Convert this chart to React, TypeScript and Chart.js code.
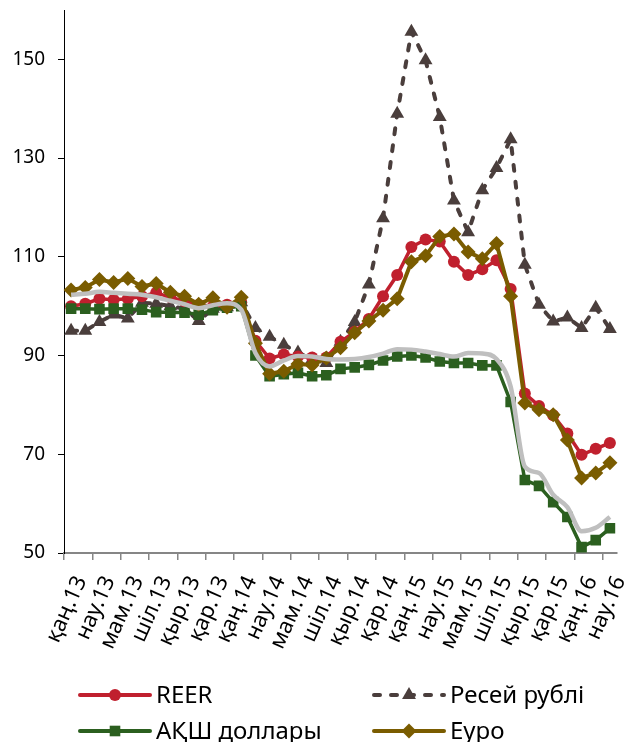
import React, { useEffect, useRef } from 'react';
import { Chart, registerables } from 'chart.js';

Chart.register(...registerables);

const categories = [
  'қаң.13', 'ақп.13', 'нау.13', 'сәу.13', 'мам.13', 'мау.13', 'шіл.13', 'там.13', 'қыр.13', 'қаз.13', 'қар.13', 'жел.13',
  'қаң.14', 'ақп.14', 'нау.14', 'сәу.14', 'мам.14', 'мау.14', 'шіл.14', 'там.14', 'қыр.14', 'қаз.14', 'қар.14', 'жел.14',
  'қаң.15', 'ақп.15', 'нау.15', 'сәу.15', 'мам.15', 'мау.15', 'шіл.15', 'там.15', 'қыр.15', 'қаз.15', 'қар.15', 'жел.15',
  'қаң.16', 'ақп.16', 'нау.16',
];

const reer = [
  100, 100.5, 101.5, 101.3, 101.5, 102, 102.7, 101.8, 101, 100.3, 100, 100.3,
  100.8, 93, 89.4, 90.2, 89.8, 89.6, 89.6, 92.8, 94.8, 97.4, 102, 106.3,
  112, 113.5, 113.1, 109, 106.3, 107.5, 109.3, 103.5, 82.3, 79.8, 77.9, 74.2,
  69.9, 71.1, 72.3,
];

const ruble = [
  95, 95, 96.8, 98.3, 97.5, 100.7, 100.5, 100, 99.5, 97, 99.5, 99.8,
  100.8, 95.6, 93.8, 92.2, 90.6, 89.2, 88.5, 92.8, 96.8, 104.4, 117.8, 139,
  155.6, 149.8, 138.3, 121.4, 115, 123.5, 128, 133.8, 108.4, 100.3, 96.9, 97.7,
  95.6, 99.7, 95.4,
];

const usd = [
  99.5, 99.5, 99.4, 99.5, 99.5, 99.3, 98.8, 98.7, 98.7, 98.3, 99.2, 99.7,
  100, 90, 85.8, 86.2, 86.5, 85.8, 86, 87.3, 87.6, 88.1, 89, 89.8,
  90, 89.6, 88.8, 88.5, 88.5, 88, 88, 80.6, 64.8, 63.6, 60.3, 57.3,
  51.2, 52.6, 55,
];

const euro = [
  103.3, 103.8, 105.4, 104.8, 105.6, 104, 104.6, 102.8, 102, 100.4, 101.7, 99.8,
  101.8, 92.5, 86.3, 86.8, 88.3, 88.1, 89.5, 91.6, 94.6, 97, 99.2, 101.5,
  109, 110.2, 114.1, 114.6, 111, 109.6, 112.7, 102, 80.4, 79, 78, 72.9,
  65.2, 66.2, 68.3,
];

const trend = [
  102.3, 102.5, 102.9, 102.7, 102.5, 102.3, 101.8, 101.1, 100.4, 99.6, 100.2, 100.6,
  99.3, 90.5, 87.8, 89, 89.9, 89.8, 89.3, 89.2, 89.3, 89.7, 90.4, 91.3,
  91.2, 90.8, 90.3, 89.8, 90.5, 90.4, 89.3, 83.7, 67.5, 66.2, 61.8, 59.3,
  54.4, 55.1, 57.3,
];

const yTicks = [50, 70, 90, 110, 130, 150];

const seriesNames = ['REER', 'Ресей рублі', 'АҚШ доллары', 'Еуро'];

const FONT = "'Noto Sans', sans-serif";

function drawMarker(ctx: CanvasRenderingContext2D, style: string, x: number, y: number, r: number, color: string) {
  ctx.save();
  ctx.setLineDash([]);
  ctx.fillStyle = color;
  ctx.beginPath();
  if (style === 'circle') {
    ctx.arc(x, y, r, 0, Math.PI * 2);
  } else if (style === 'rect') {
    const s = r * Math.SQRT1_2;
    ctx.rect(x - s, y - s, 2 * s, 2 * s);
  } else if (style === 'triangle') {
    ctx.moveTo(x, y - r);
    ctx.lineTo(x + r * 0.866, y + r * 0.5);
    ctx.lineTo(x - r * 0.866, y + r * 0.5);
    ctx.closePath();
  } else {
    ctx.moveTo(x - r, y);
    ctx.lineTo(x, y - r);
    ctx.lineTo(x + r, y);
    ctx.lineTo(x, y + r);
    ctx.closePath();
  }
  ctx.fill();
  ctx.restore();
}

const legendPlugin = {
  id: 'gridLegend',
  afterDraw(chart: any) {
    const ctx: CanvasRenderingContext2D = chart.ctx;
    const slots = [
      { x: 80, y: 695 },
      { x: 374, y: 695 },
      { x: 80, y: 731 },
      { x: 374, y: 731 },
    ];
    seriesNames.forEach((name, i) => {
      const ds = chart.data.datasets.find((d: any) => d.label === name);
      if (!ds) return;
      const { x, y } = slots[i];
      ctx.save();
      ctx.strokeStyle = ds.borderColor;
      ctx.lineWidth = 4;
      ctx.lineCap = 'round';
      if (ds.borderDash) ctx.setLineDash(ds.borderDash);
      ctx.beginPath();
      ctx.moveTo(x, y);
      ctx.lineTo(x + 70, y);
      ctx.stroke();
      ctx.restore();
      drawMarker(ctx, ds.pointStyle, x + 35, y, ds.pointRadius, ds.borderColor);
      ctx.save();
      ctx.fillStyle = '#000';
      ctx.font = `24px ${FONT}`;
      ctx.textBaseline = 'middle';
      ctx.textAlign = 'left';
      ctx.fillText(name, x + 76, y + 1);
      ctx.restore();
    });
  },
};

export default function App() {
  const ref = useRef<HTMLCanvasElement | null>(null);

  useEffect(() => {
    if (!ref.current) return;
    const chart = new Chart(ref.current, {
      type: 'line',
      data: {
        labels: categories,
        datasets: [
          {
            label: 'trend',
            data: trend,
            borderColor: '#bfbfbf',
            borderWidth: 4.5,
            pointRadius: 0,
            cubicInterpolationMode: 'monotone',
            fill: false,
          },
          {
            label: 'Еуро',
            data: euro,
            borderColor: '#7a5c00',
            backgroundColor: '#7a5c00',
            borderWidth: 4,
            pointStyle: 'rectRot',
            pointRadius: 7.5,
            pointBorderWidth: 0,
            tension: 0,
          },
          {
            label: 'АҚШ доллары',
            data: usd,
            borderColor: '#2b5f1f',
            backgroundColor: '#2b5f1f',
            borderWidth: 3.5,
            pointStyle: 'rect',
            pointRadius: 7.5,
            pointBorderWidth: 0,
            tension: 0,
          },
          {
            label: 'REER',
            data: reer,
            borderColor: '#c0202e',
            backgroundColor: '#c0202e',
            borderWidth: 3.5,
            pointStyle: 'circle',
            pointRadius: 6,
            pointBorderWidth: 0,
            tension: 0,
          },
          {
            label: 'Ресей рублі',
            data: ruble,
            borderColor: '#4a3e3c',
            backgroundColor: '#4a3e3c',
            borderWidth: 4,
            borderDash: [6, 11],
            borderCapStyle: 'round',
            pointStyle: 'triangle',
            pointRadius: 8,
            pointBorderWidth: 0,
            tension: 0,
          },
        ],
      },
      options: {
        responsive: false,
        animation: false,
        layout: { padding: { top: 10, right: 5, left: 0, bottom: 0 } },
        plugins: {
          legend: { display: false },
          tooltip: { enabled: false },
        },
        scales: {
          x: {
            type: 'category',
            offset: true,
            afterFit: (s: any) => {
              s.height = 189;
              s.paddingLeft = 0;
              s.paddingRight = 0;
            },
            grid: {
              offset: true,
              drawOnChartArea: false,
              drawTicks: true,
              tickLength: 7,
              lineWidth: 1.5,
              color: (c: any) => (c.index % 2 === 0 ? '#868686' : 'rgba(0,0,0,0)'),
            },
            border: { color: '#868686', width: 2 },
            ticks: {
              autoSkip: false,
              minRotation: 66,
              maxRotation: 66,
              labelOffset: 10,
              padding: 12,
              color: '#000',
              font: { family: FONT, size: 22 },
              callback: (_v: any, i: number) => (i % 2 === 0 ? categories[i] : ''),
            },
          },
          y: {
            min: 50,
            max: 160,
            afterFit: (s: any) => {
              s.width = 64;
              s.paddingTop = 0;
              s.paddingBottom = 0;
            },
            afterBuildTicks: (s: any) => { s.ticks = yTicks.map((v) => ({ value: v })); },
            grid: {
              drawOnChartArea: false,
              drawTicks: true,
              tickLength: 6,
              color: '#000',
            },
            border: { color: '#000', width: 1 },
            ticks: {
              padding: 13,
              color: '#000',
              font: { family: FONT, size: 19 },
            },
          },
        },
      },
      plugins: [legendPlugin],
    });
    return () => chart.destroy();
  }, []);

  return (
    <div style={{ position: 'absolute', left: 0, top: 0, width: 625, height: 742 }}>
      <canvas ref={ref} width={625} height={742} style={{ width: 625, height: 742 }} />
    </div>
  );
}
